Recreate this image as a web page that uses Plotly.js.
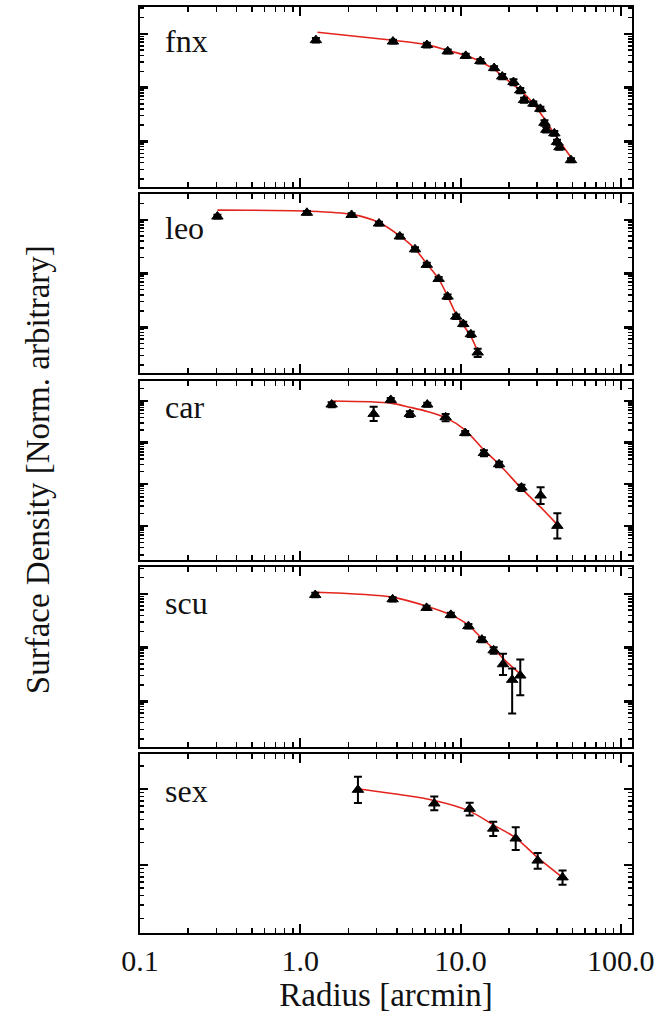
<!DOCTYPE html>
<html>
<head>
<meta charset="utf-8">
<script src="https://cdn.plot.ly/plotly-3.0.1.min.js"></script>
<style>html,body{margin:0;padding:0;background:#fff;}#plot{width:664px;height:1014px;}</style>
</head>
<body>
<div id="plot"></div>
<script>
// ---- data ----
const panelNames = ["fnx", "leo", "car", "scu", "sex"];

const fnxR   = [1.252, 3.79, 6.17, 8.32, 10.78, 13.3, 16.2, 18.2, 21.4, 23.6, 24.9, 28.5, 31.5, 33.4, 34.3, 38.5, 40.0, 41.4, 48.9];
const fnxS   = [0.764, 0.720, 0.620, 0.473, 0.390, 0.312, 0.231, 0.161, 0.127, 0.0887, 0.0585, 0.0503, 0.0402, 0.0221, 0.0164, 0.0141, 0.00973, 0.00776, 0.00447];
const fnxErr = [0.07, 0.06, 0.06, 0.04, 0.035, 0.03, 0.02, 0.018, 0.016, 0.01, 0.006, 0.005, 0.004, 0.0025, 0.0018, 0.0014, 0.001, 0.0008, 0.0004];
const fnxFitR = [1.28, 3.79, 6.17, 8.32, 10.78, 13.3, 16.2, 19, 23, 28, 33, 40, 49];
const fnxFitS = [1.072, 0.759, 0.631, 0.490, 0.398, 0.302, 0.219, 0.148, 0.0955, 0.0537, 0.0275, 0.0117, 0.00501];

const leoR   = [0.304, 1.1, 2.09, 3.1, 4.18, 5.2, 6.16, 7.3, 8.3, 9.4, 10.4, 11.6, 12.8];
const leoS   = [1.148, 1.349, 1.230, 0.851, 0.490, 0.282, 0.145, 0.0794, 0.0372, 0.0158, 0.0115, 0.00741, 0.00339];
const leoErr = [0.09, 0.1, 0.09, 0.07, 0.04, 0.025, 0.013, 0.007, 0.0035, 0.0015, 0.0011, 0.0008, 0.0006];
const leoFitR = [0.304, 1.1, 2.09, 3.1, 4.18, 5.2, 6.16, 7.3, 8.3, 9.4, 10.4, 11.6, 12.8];
const leoFitS = [1.514, 1.445, 1.259, 0.891, 0.501, 0.288, 0.151, 0.0794, 0.0380, 0.0174, 0.0110, 0.00676, 0.00355];

const carR      = [1.57, 2.87, 3.67, 4.83, 6.2, 8.07, 10.7, 14, 17.4, 24, 31.6, 40.2];
const carS      = [0.822, 0.490, 1.059, 0.490, 0.822, 0.407, 0.170, 0.0562, 0.0302, 0.00832, 0.00537, 0.001];
const carErrUp  = [0.11, 0.236, 0.12, 0.08, 0.09, 0.08, 0.02, 0.009, 0.0045, 0.0014, 0.0031, 0.001];
const carErrDn  = [0.11, 0.160, 0.12, 0.08, 0.09, 0.08, 0.02, 0.009, 0.0045, 0.0014, 0.0020, 0.0005];
const carFitR = [1.6, 3.67, 4.83, 6.2, 8.07, 10.7, 14, 17.4, 24, 31.6, 40.2];
const carFitS = [1.0, 0.891, 0.708, 0.562, 0.398, 0.200, 0.0661, 0.0302, 0.00794, 0.00282, 0.00107];

const scuR     = [1.24, 3.77, 6.14, 8.7, 11.2, 13.6, 16.1, 18.4, 21, 23.6];
const scuS     = [0.955, 0.794, 0.550, 0.407, 0.251, 0.141, 0.0891, 0.0490, 0.0251, 0.0302];
const scuErrUp = [0.09, 0.07, 0.05, 0.04, 0.025, 0.015, 0.012, 0.028, 0.0157, 0.0301];
const scuErrDn = [0.09, 0.07, 0.05, 0.04, 0.025, 0.015, 0.012, 0.018, 0.0192, 0.0173];
const scuFitR = [1.24, 3.77, 6.14, 8.7, 11.2, 13.6, 16.1, 18.4, 21, 23.6];
const scuFitS = [1.072, 0.871, 0.589, 0.407, 0.263, 0.148, 0.0955, 0.0631, 0.0437, 0.0324];

const sexR     = [2.29, 6.86, 11.4, 16, 22.1, 30.3, 43.3];
const sexS     = [0.977, 0.646, 0.550, 0.302, 0.224, 0.115, 0.0692];
const sexErrUp = [0.47, 0.15, 0.11, 0.07, 0.09, 0.03, 0.016];
const sexErrDn = [0.32, 0.12, 0.10, 0.06, 0.066, 0.025, 0.014];
const sexFitR = [2.35, 6.86, 11.4, 16, 22.1, 30.3, 43.3];
const sexFitS = [1.0, 0.708, 0.513, 0.339, 0.229, 0.126, 0.0692];

const xTickVals = [0.1, 1, 10, 100];
const xTickText = ["0.1", "1.0", "10.0", "100.0"];
const yTickVals = [1, 0.1, 0.01, 0.001, 0.0001];

// ---- build figure ----
const panels = [
  {r: fnxR, s: fnxS, up: fnxErr, dn: fnxErr, fr: fnxFitR, fs: fnxFitS, yr: [-2.85, 0.5], dom: [0.8056, 1.0], ly: 0.81},
  {r: leoR, s: leoS, up: leoErr, dn: leoErr, fr: leoFitR, fs: leoFitS, yr: [-2.85, 0.48], dom: [0.6048, 0.7981], ly: 0.81},
  {r: carR, s: carS, up: carErrUp, dn: carErrDn, fr: carFitR, fs: carFitS, yr: [-3.82, 0.48], dom: [0.4028, 0.5961], ly: 0.855},
  {r: scuR, s: scuS, up: scuErrUp, dn: scuErrDn, fr: scuFitR, fs: scuFitS, yr: [-2.85, 0.5], dom: [0.2009, 0.3952], ly: 0.80},
  {r: sexR, s: sexS, up: sexErrUp, dn: sexErrDn, fr: sexFitR, fs: sexFitS, yr: [-1.89, 0.46], dom: [0.0, 0.1933], ly: 0.796}
];

const minorX = [];
[0.1, 1, 10].forEach(d => { for (let k = 2; k <= 9; k++) minorX.push(+(d * k).toPrecision(3)); });
const minorY = [];
[0.0001, 0.001, 0.01, 0.1, 1].forEach(d => { for (let k = 2; k <= 9; k++) minorY.push(+(d * k).toPrecision(3)); });

const font = "Liberation Serif, Times New Roman, serif";
const traces = [];
const layout = {
  width: 664, height: 1014,
  margin: {l: 140, r: 32, t: 7, b: 81},
  paper_bgcolor: "#fff", plot_bgcolor: "#fff",
  showlegend: false,
  font: {family: font, color: "#111", size: 30},
  annotations: []
};

panels.forEach((p, i) => {
  const n = i + 1;
  const xa = "x" + (n === 1 ? "" : n), ya = "y" + (n === 1 ? "" : n);
  traces.push({
    x: p.fr, y: p.fs, xaxis: xa, yaxis: ya, type: "scatter", mode: "lines",
    line: {color: "#e3241d", width: 1.6, shape: "spline", smoothing: 0.8}, hoverinfo: "skip"
  });
  traces.push({
    x: p.r, y: p.s, xaxis: xa, yaxis: ya, type: "scatter", mode: "markers",
    marker: {symbol: "triangle-up", size: 10, color: "#000", line: {color: "#000", width: 1}},
    error_y: {type: "data", symmetric: false, array: p.up, arrayminus: p.dn, color: "#000", thickness: 2, width: 4}
  });
  const xk = "xaxis" + (n === 1 ? "" : n), yk = "yaxis" + (n === 1 ? "" : n);
  layout[xk] = {
    type: "log", range: [-1, 2.07], domain: [0, 1], anchor: ya,
    tickmode: "array", tickvals: xTickVals, ticktext: xTickText,
    ticks: "inside", ticklen: 9, tickwidth: 2, tickcolor: "#000",
    showticklabels: n === 5, tickfont: {family: font, size: 30, color: "#111"},
    showline: true, linecolor: "#000", linewidth: 2, mirror: "allticks",
    showgrid: false, zeroline: false,
    minor: {tickmode: "array", tickvals: minorX, ticks: "inside", ticklen: 5, tickwidth: 1.5, tickcolor: "#000", showgrid: false}
  };
  if (n === 5) layout[xk].title = {text: "Radius [arcmin]", font: {family: font, size: 33, color: "#111"}, standoff: 4};
  layout[yk] = {
    type: "log", range: p.yr, domain: p.dom, anchor: xa,
    tickmode: "array", tickvals: yTickVals, showticklabels: false,
    ticks: "inside", ticklen: 8, tickwidth: 2.5, tickcolor: "#000",
    showline: true, linecolor: "#000", linewidth: 2, mirror: "allticks",
    showgrid: false, zeroline: false,
    minor: {tickmode: "array", tickvals: minorY, ticks: "inside", ticklen: 4, tickwidth: 1.5, tickcolor: "#000", showgrid: false}
  };
  layout.annotations.push({
    text: panelNames[i], xref: xa + " domain", yref: ya + " domain",
    x: 0.046, y: p.ly, xanchor: "left", yanchor: "middle", showarrow: false,
    font: {family: font, size: 32, color: "#111"}
  });
});

layout.annotations.push({
  text: "Surface Density [Norm. arbitrary]", xref: "paper", yref: "paper",
  x: -0.207, y: 0.5, xanchor: "center", yanchor: "middle", textangle: -90, showarrow: false,
  font: {family: font, size: 33, color: "#111"}
});

Plotly.newPlot("plot", traces, layout, {displayModeBar: false, staticPlot: true});
</script>
</body>
</html>
